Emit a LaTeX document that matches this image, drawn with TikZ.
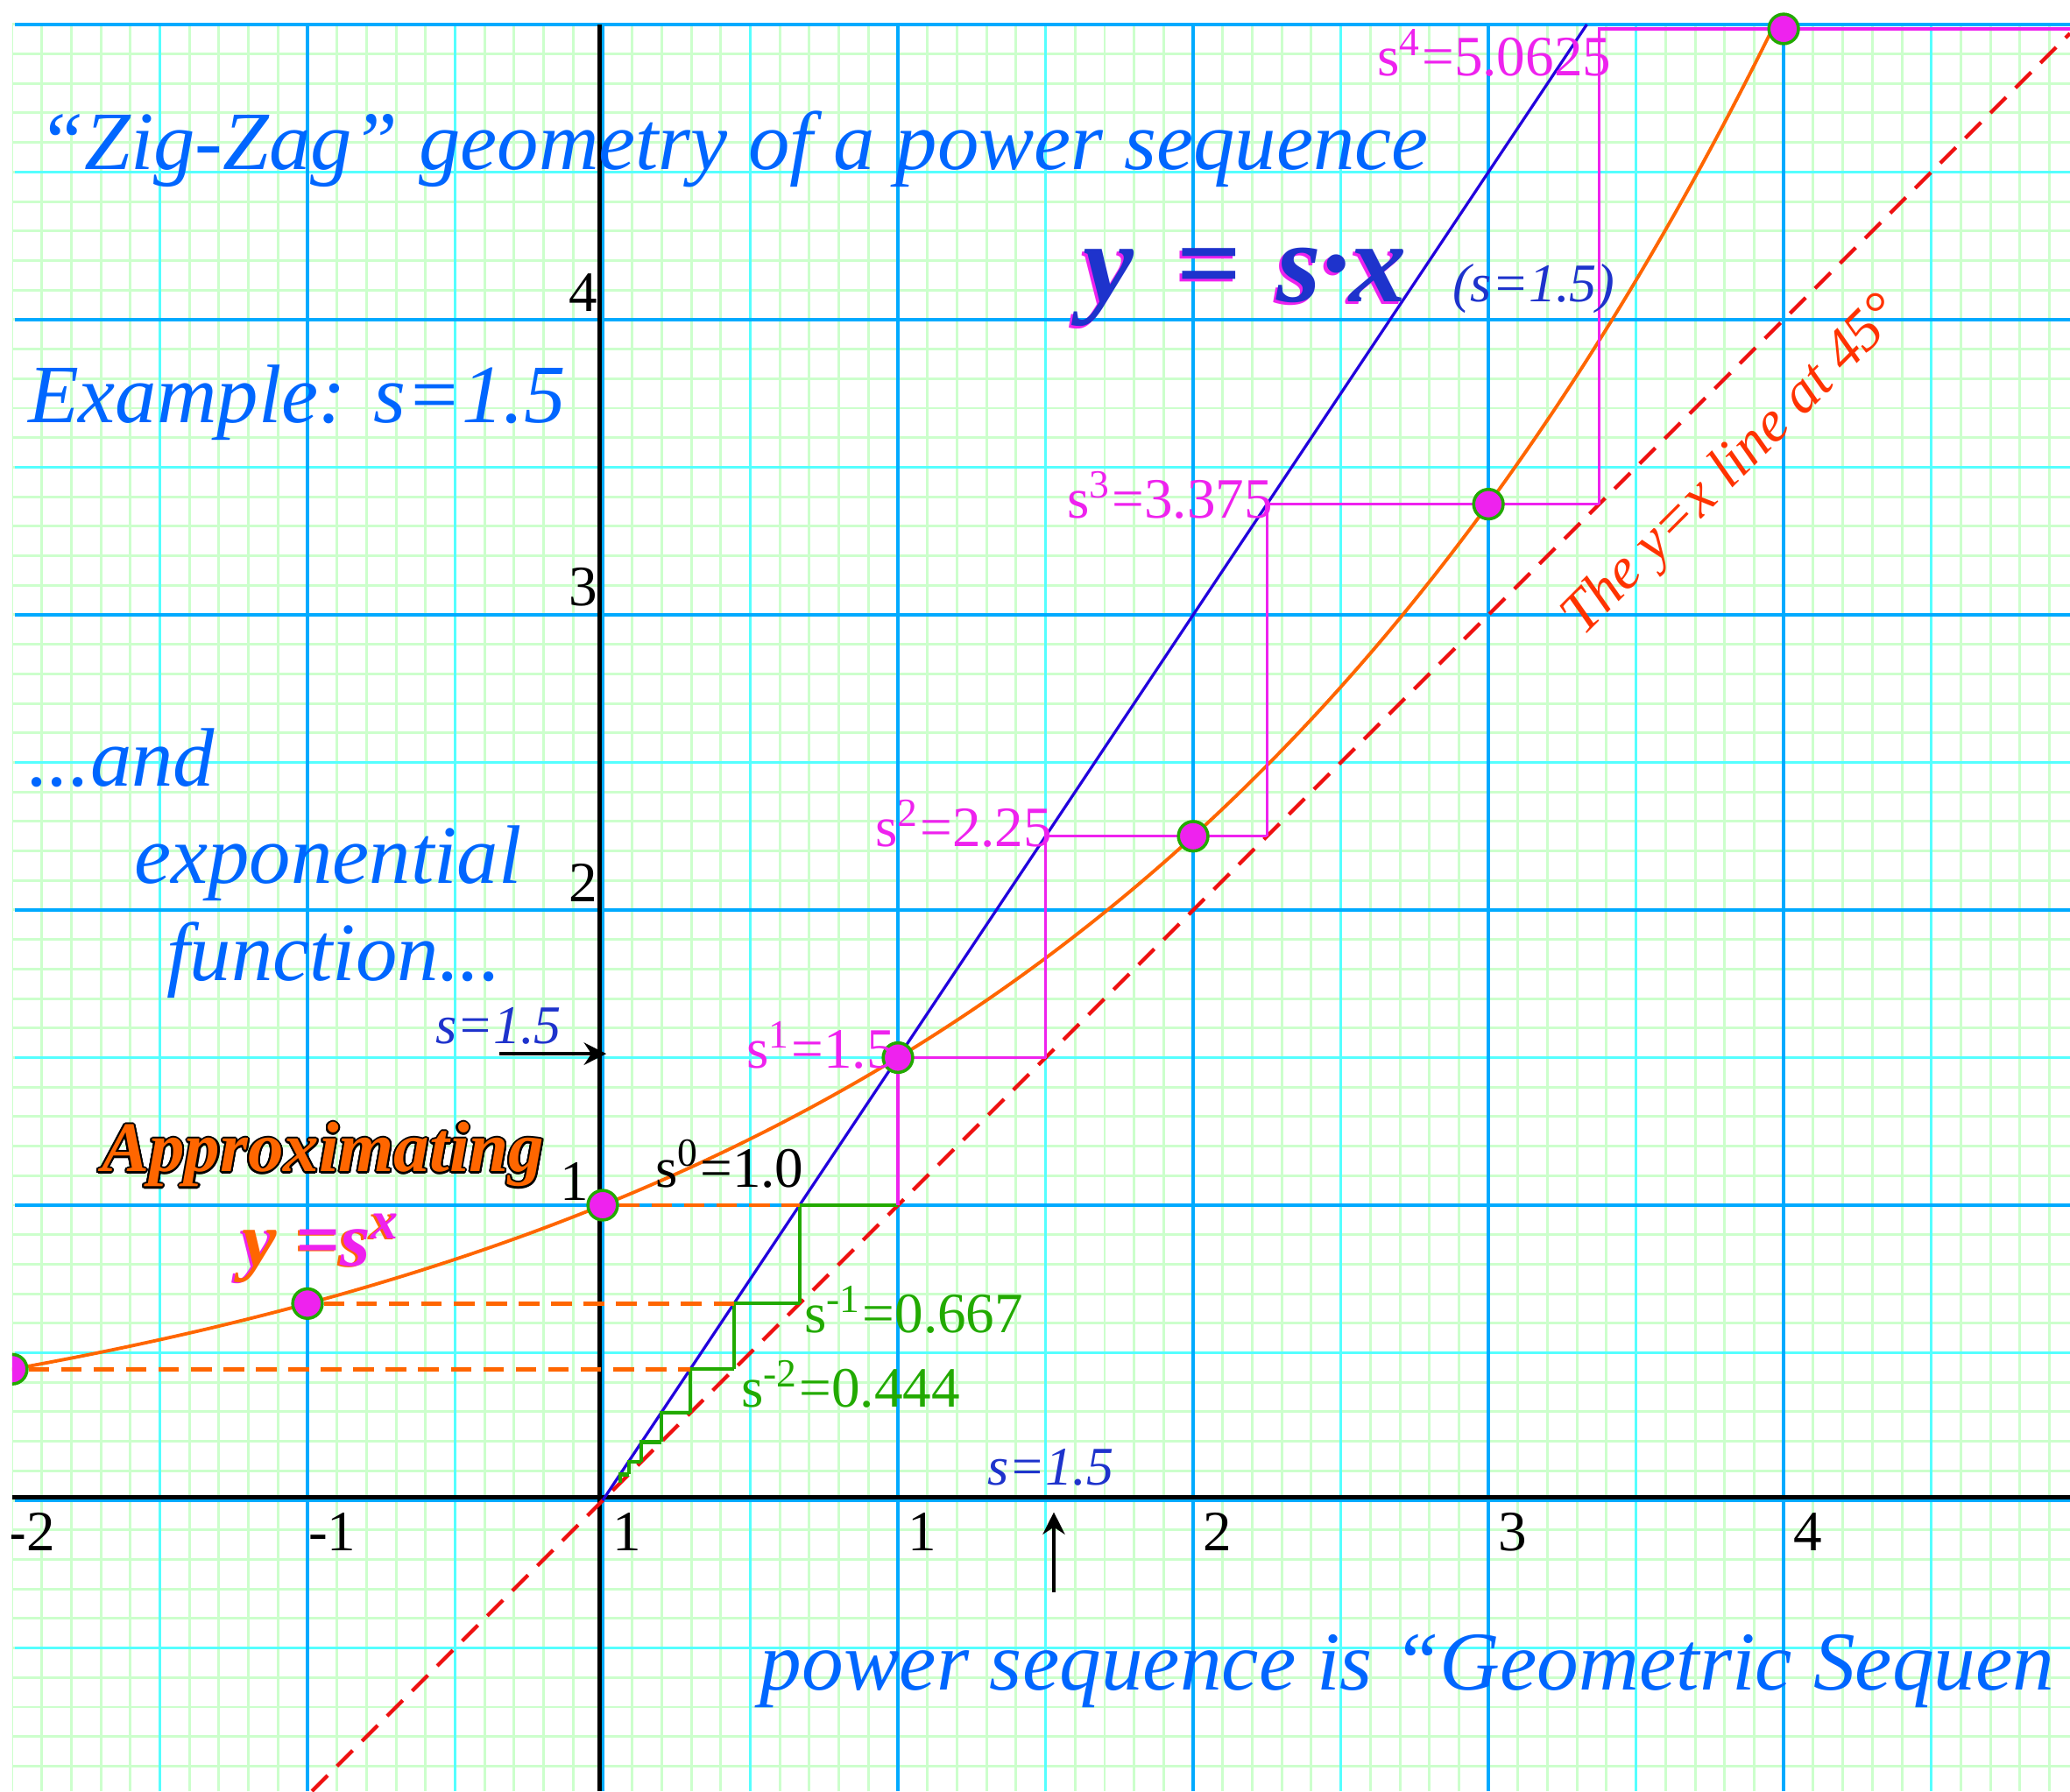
\documentclass[tikz,border=0pt]{standalone}
\usepackage{fontspec}
\setmainfont{Liberation Serif}
\usepackage{xcolor}
\usepackage[copies]{contour}
\usepackage{tikz}
\usetikzlibrary{arrows.meta,calc}
\definecolor{gridgreen}{HTML}{CCFFCC}
\definecolor{gridcyan}{HTML}{55FFFF}
\definecolor{gridblue}{HTML}{00AAFF}
\definecolor{titleblue}{HTML}{0066FF}
\definecolor{deepblue}{HTML}{1E33CC}
\definecolor{lineblue}{HTML}{2200DD}
\definecolor{curveorange}{HTML}{FF6600}
\definecolor{diagred}{HTML}{EE1111}
\definecolor{textred}{HTML}{FF3300}
\definecolor{zigmagenta}{HTML}{EE22EE}
\definecolor{ziggreen}{HTML}{22AA00}
\contourlength{0.35pt}
\contournumber{16}
\tikzset{
  minorgrid/.style={draw=gridgreen,line width=.5pt,step=0.1},
  halfgrid/.style={draw=gridcyan,line width=.6pt,step=0.5},
  unitgrid/.style={draw=gridblue,line width=.7pt,step=1},
  axisline/.style={draw=black,line width=.75pt},
  sline/.style={draw=lineblue,line width=.55pt},
  expcurve/.style={draw=curveorange,line width=.65pt},
  diagline/.style={draw=diagred,line width=.7pt,dash pattern=on 1.5mm off .9mm},
  projline/.style={draw=curveorange,line width=.8pt,dash pattern=on 1.4mm off .8mm},
  zigup/.style={draw=zigmagenta,line width=.55pt},
  zigdown/.style={draw=ziggreen,line width=.7pt},
  powdot/.style={circle,fill=zigmagenta,draw=ziggreen,line width=.6pt,
    minimum size=2mm,inner sep=0pt},
  arrow/.style={-{Stealth[length=1.5mm,width=1.5mm]},draw=black,line width=.7pt},
  bigtext/.style={font=\fontsize{16}{18}\selectfont\itshape,text=titleblue,
    anchor=base west,inner sep=0pt},
  ticklabel/.style={font=\fontsize{11}{12}\selectfont,inner sep=0pt},
  powlabel/.style={font=\fontsize{11}{12}\selectfont,anchor=base west,inner sep=0pt},
  slabel/.style={font=\fontsize{10.5}{12}\selectfont\itshape,text=deepblue,
    anchor=base west,inner sep=0pt}
}

\begin{document}
\begin{tikzpicture}[x=2cm,y=2cm]
\useasboundingbox (-2.0415,-0.985) rectangle (4.970,5.083);
\clip (-2,-0.985) rectangle (4.970,5.083);

% graph paper
\draw[minorgrid] (-2.001,-0.985) grid (4.97,5.001);
\draw[halfgrid] (-1.99,-0.985) grid (4.97,5.001);
\draw[unitgrid] (-1.99,-0.985) grid (4.97,5.001);

% axes
\draw[axisline] (-2,0.01) -- (4.97,0.01);
\draw[axisline] (-0.01,-0.985) -- (-0.01,5);

% lines and curve
\draw[diagline] (-0.985,-0.985) -- (4.97,4.97);
\draw[sline] (0,0) -- (3.3333,5);
\draw[expcurve] plot[domain=-2.05:3.962,samples=121,smooth] (\x,{exp(0.405465*\x)});

% zig-zag for negative powers
\foreach \k in {0,...,6}{
  \pgfmathsetmacro\za{0.666667^\k}
  \pgfmathsetmacro\zb{\za*0.666667}
  \draw[zigdown] (\za,\za) -- (\zb,\za) -- (\zb,\zb);
}
% zig-zag for positive powers
\foreach \k in {0,1,2}{
  \pgfmathsetmacro\za{1.5^\k}
  \pgfmathsetmacro\zb{\za*1.5}
  \draw[zigup] (\za,\za) -- (\za,\zb) -- (\zb,\zb);
}
\draw[zigup] (3.375,3.375) -- (3.375,4.985) -- (4.97,4.985);

% points on y=s^x
\foreach \n/\px/\py in {m2/-2/0.4444,m1/-1/0.6667,0/0/1,1/1/1.5,2/2/2.25,3/3/3.375,4/4/4.985}
  \node[powdot] (dot\n) at (\px,\py) {};
\draw[projline] (dot0.east) -- (0.6667,1);
\draw[projline] (dotm1.east) -- (0.4444,0.6667);
\draw[projline] (dotm2.east) -- (0.2963,0.4444);

% s=1.5 markers
\coordinate (harrowtail) at (-0.35,1.513);
\coordinate (harrowtip) at (0.012,1.513);
\draw[arrow] (harrowtail) -- (harrowtip);
\coordinate (varrowtail) at (1.528,-0.31);
\coordinate (varrowtip) at (1.528,-0.04);
\draw[arrow] (varrowtail) -- (varrowtip);
\node[slabel] (sleft) at (-0.57,1.547) {s=1.5};
\node[slabel] (sbottom) at (1.30,0.053) {s=1.5};

% tick labels
\foreach \v in {2,3,4}
  \node[ticklabel,anchor=south east] (ytick\v) at (-0.015,\v+0.025) {\v};
\node[ticklabel,anchor=south east] (ytick1) at (-0.045,1.012) {1};
\foreach \v in {1,2,3,4}
  \node[ticklabel,anchor=north west] (xtick\v) at (\v+0.03,-0.04) {\v};
\node[ticklabel,anchor=north west] (xtick0) at (0.03,-0.04) {1};
\node[ticklabel,anchor=north west] (xtickm1) at (-1.0,-0.04) {-1};
\node[ticklabel,anchor=north west] (xtickm2) at (-2.02,-0.04) {-2};

% power labels
\node[powlabel] (lab0) at (0.175,1.062) {s\textsuperscript{0}=1.0};
\node[powlabel,text=zigmagenta] (lab1) at (0.484,1.463) {s\textsuperscript{1}=1.5};
\node[powlabel,text=zigmagenta] (lab2) at (0.92,2.214) {s\textsuperscript{2}=2.25};
\node[powlabel,text=zigmagenta] (lab3) at (1.57,3.327) {s\textsuperscript{3}=3.375};
\node[powlabel,text=zigmagenta] (lab4) at (2.62,4.825) {s\textsuperscript{4}=5.0625};
\node[powlabel,text=ziggreen] (labm1) at (0.68,0.567) {s\textsuperscript{-1}=0.667};
\node[powlabel,text=ziggreen] (labm2) at (0.466,0.315) {s\textsuperscript{-2}=0.444};

% texts
\node[bigtext] (title) at (-1.915,4.51) {“Zig-Zag” geometry of a power sequence};
\node[bigtext] (example) at (-1.95,3.65) {Example: s=1.5};
\node[bigtext] (andtxt) at (-1.95,2.42) {...and};
\node[bigtext] (expotxt) at (-1.59,2.09) {exponential};
\node[bigtext] (functxt) at (-1.48,1.76) {function...};
\node[bigtext,font=\fontsize{16.1}{18}\selectfont\itshape] (geomtxt) at (0.53,-0.642)
  {power sequence is “Geometric Sequen};

\node[anchor=base west,inner sep=0pt,font=\fontsize{22}{24}\selectfont\bfseries\itshape,
  text=zigmagenta] (yeqsxshadow) at (1.615,4.052) {y\hspace{0.12em} =\hspace{0.06em} s·x};
\node[anchor=base west,inner sep=0pt,font=\fontsize{22}{24}\selectfont\bfseries\itshape,
  text=deepblue] (yeqsx) at (1.625,4.06) {y\hspace{0.12em} =\hspace{0.06em} s·x};
\node[slabel] (sparen) at (2.875,4.06) {(s=1.5)};

\node[font=\fontsize{11.3}{12}\selectfont\itshape,text=textred,rotate=45,inner sep=0pt]
  (diaglabel) at (3.83,3.50) {The y=x line at 45°};

\node[anchor=base west,inner sep=0pt,font=\fontsize{13.7}{16}\selectfont\bfseries\itshape,
  text=curveorange] (approx) at (-1.70,1.113) {\contour{black}{Approximating}};
\node[anchor=base west,inner sep=0pt,font=\fontsize{15}{16}\selectfont\bfseries\itshape]
  (ysxshadow) at (-1.233,0.79)
  {\textcolor{zigmagenta}{y }\textcolor{curveorange}{=s\textsuperscript{x}}};
\node[anchor=base west,inner sep=0pt,font=\fontsize{15}{16}\selectfont\bfseries\itshape]
  (ysx) at (-1.225,0.795)
  {\textcolor{curveorange}{y }\textcolor{zigmagenta}{=s\textsuperscript{x}}};
\end{tikzpicture}
\end{document}
